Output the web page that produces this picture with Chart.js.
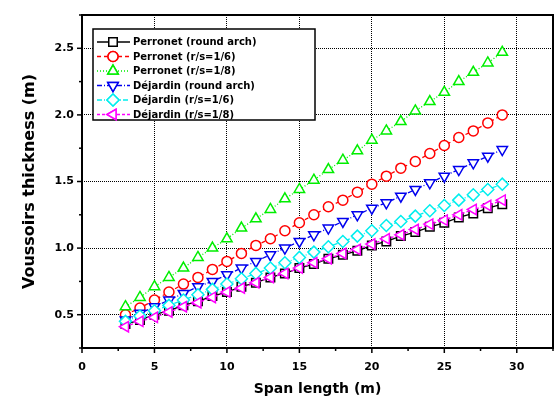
<!DOCTYPE html>
<html>
<head>
<meta charset="utf-8">
<script src="https://cdn.jsdelivr.net/npm/chart.js@4"></script>
<style>
html,body{margin:0;padding:0;background:#fff;}
#wrap{width:555px;height:403px;}
</style>
</head>
<body>
<div id="wrap"><canvas id="grafico" width="555" height="403"></canvas></div>
<script>
// span (m)
const spans = [3,4,5,6,7,8,9,10,11,12,13,14,15,16,17,18,19,20,21,22,23,24,25,26,27,28,29]

// voussoirs thickness (m)
const perronetRound = [0.43,0.46,0.50,0.53,0.57,0.60,0.64,0.67,0.71,0.74,0.78,0.81,0.85,0.88,0.92,0.95,0.98,1.02,1.05,1.09,1.12,1.16,1.19,1.23,1.26,1.30,1.33]
const perronet16 = [0.50,0.55,0.61,0.67,0.73,0.78,0.84,0.90,0.96,1.02,1.07,1.13,1.19,1.25,1.31,1.36,1.42,1.48,1.54,1.60,1.65,1.71,1.77,1.83,1.88,1.94,2.00]
const perronet18 = [0.56,0.63,0.71,0.78,0.85,0.93,1.00,1.07,1.15,1.22,1.29,1.37,1.44,1.51,1.59,1.66,1.73,1.81,1.88,1.95,2.03,2.10,2.17,2.25,2.32,2.39,2.47]
const dejardinRound = [0.46,0.51,0.56,0.61,0.66,0.71,0.75,0.80,0.85,0.90,0.95,1.00,1.05,1.10,1.15,1.20,1.25,1.30,1.34,1.39,1.44,1.49,1.54,1.59,1.64,1.69,1.74]
const dejardin16 = [0.45,0.49,0.53,0.57,0.61,0.65,0.69,0.73,0.77,0.81,0.85,0.89,0.93,0.97,1.01,1.05,1.09,1.13,1.17,1.20,1.24,1.28,1.32,1.36,1.40,1.44,1.48]
const dejardin18 = [0.41,0.45,0.48,0.52,0.56,0.59,0.63,0.67,0.70,0.74,0.78,0.81,0.85,0.89,0.92,0.96,0.99,1.03,1.07,1.10,1.14,1.18,1.21,1.25,1.29,1.32,1.36]

const nombres = ["Perronet (round arch)","Perronet (r/s=1/6)","Perronet (r/s=1/8)","Déjardin (round arch)","Déjardin (r/s=1/6)","Déjardin (r/s=1/8)"]
const series = [perronetRound,perronet16,perronet18,dejardinRound,dejardin16,dejardin18]

const xTicks = [0,5,10,15,20,25,30,32.5]
const yTicks = [0.25,0.5,1.0,1.5,2.0,2.5,2.75]

const estilos = [
{color:"#000000",dash:[],forma:"rect",radio:6,rot:0},
{color:"#ff0000",dash:[4,3],forma:"circle",radio:5,rot:0},
{color:"#00ee00",dash:[1,2],forma:"triangle",radio:6,rot:0},
{color:"#0000ee",dash:[5,2,1,2],forma:"triangle",radio:6,rot:180},
{color:"#00eeee",dash:[5,2,1,2,1,2],forma:"rectRot",radio:6,rot:0},
{color:"#ff00ff",dash:[3,2],forma:"triangle",radio:6,rot:270}
]

const FUENTE = "'DejaVu Sans', Verdana, sans-serif"

const datasets = series.map((s,i) => ({
label:nombres[i],
data:s.map((v,j) => ({x:spans[j],y:v})),
borderColor:estilos[i].color,
backgroundColor:"#ffffff",
borderWidth:1.3,
borderDash:estilos[i].dash,
pointStyle:estilos[i].forma,
pointRadius:estilos[i].radio,
pointRotation:estilos[i].rot,
pointBorderWidth:1.5,
pointBorderColor:estilos[i].color,
pointBackgroundColor:"#ffffff",
order:5-i
}))

function esMultiplo(v,p){
return Math.abs(v/p - Math.round(v/p)) < 1e-6
}

/* marco, marcas de ejes y leyenda */
const marco = {
id:"marco",
afterDraw(chart){
const ctx = chart.ctx
const a = chart.chartArea
const sx = chart.scales.x
const sy = chart.scales.y
ctx.save()
ctx.strokeStyle = "#000"
ctx.setLineDash([])

// marcas
ctx.lineWidth = 1.5
for(let v=0; v<=32.5+1e-6; v+=2.5){
const px = sx.getPixelForValue(v)
const largo = esMultiplo(v,5) ? 5 : 3
ctx.beginPath(); ctx.moveTo(px,a.bottom); ctx.lineTo(px,a.bottom+largo); ctx.stroke()
}
for(let v=0.25; v<=2.75+1e-6; v+=0.25){
const py = sy.getPixelForValue(v)
const largo = esMultiplo(v,0.5) ? 5 : 3
ctx.beginPath(); ctx.moveTo(a.left,py); ctx.lineTo(a.left-largo,py); ctx.stroke()
}

// marco
ctx.lineWidth = 2
ctx.strokeRect(a.left,a.top,a.right-a.left,a.bottom-a.top)

// leyenda
const lx = a.left+11, ly = a.top+14
const lw = 222, lh = 91
ctx.fillStyle = "#fff"
ctx.fillRect(lx,ly,lw,lh)
ctx.lineWidth = 1.5
ctx.strokeRect(lx,ly,lw,lh)
ctx.font = "bold 10px " + FUENTE
ctx.textBaseline = "middle"
chart.data.datasets.forEach((ds,i) => {
const yy = ly + 13 + i*14.5
ctx.strokeStyle = ds.borderColor
ctx.lineWidth = 1.3
ctx.setLineDash(ds.borderDash)
ctx.beginPath(); ctx.moveTo(lx+4,yy); ctx.lineTo(lx+37,yy); ctx.stroke()
ctx.setLineDash([])
ctx.lineWidth = 1.5
ctx.fillStyle = "#fff"
Chart.helpers.drawPoint(ctx,{pointStyle:ds.pointStyle,radius:ds.pointRadius,rotation:ds.pointRotation,borderWidth:1.5},lx+20,yy)
ctx.fill()
ctx.stroke()
ctx.fillStyle = "#000"
ctx.fillText(ds.label,lx+40,yy+0.5)
})
ctx.restore()
}
}

new Chart(document.getElementById("grafico"),{
type:"line",
data:{datasets:datasets},
options:{
responsive:false,
animation:false,
layout:{autoPadding:false,padding:{top:15,right:2,left:0,bottom:0}},
plugins:{legend:{display:false},tooltip:{enabled:false}},
scales:{
x:{
type:"linear",
min:0,max:32.5,
afterFit(s){ s.height = 55; s.paddingLeft = 0; s.paddingRight = 0 },
afterBuildTicks(s){ s.ticks = xTicks.map(v => ({value:v})) },
ticks:{
color:"#000",
padding:13,
font:{family:FUENTE,size:11,weight:"bold"},
callback:v => esMultiplo(v,5) ? String(v) : ""
},
grid:{
drawTicks:false,
color:c => (c.tick && c.tick.value > 0 && c.tick.value < 32.5) ? "#000" : "transparent",
lineWidth:1
},
border:{display:false,dash:[1,1]},
title:{
display:true,
text:"Span length (m)",
color:"#000",
font:{family:FUENTE,size:14,weight:"bold"},
padding:{top:0,bottom:5}
}
},
y:{
type:"linear",
min:0.25,max:2.75,
afterFit(s){ s.width = 82; s.paddingTop = 0; s.paddingBottom = 0 },
afterBuildTicks(s){ s.ticks = yTicks.map(v => ({value:v})) },
ticks:{
color:"#000",
padding:8,
font:{family:FUENTE,size:11,weight:"bold"},
callback:v => esMultiplo(v,0.5) ? v.toFixed(1) : ""
},
grid:{
drawTicks:false,
color:c => (c.tick && esMultiplo(c.tick.value,0.5)) ? "#000" : "transparent",
lineWidth:1
},
border:{display:false,dash:[1,1]},
title:{
display:true,
text:"Voussoirs thickness (m)",
color:"#000",
font:{family:FUENTE,size:16,weight:"bold"},
padding:{top:20,bottom:0}
}
}
}
},
plugins:[marco]
})
</script>
</body>
</html>
